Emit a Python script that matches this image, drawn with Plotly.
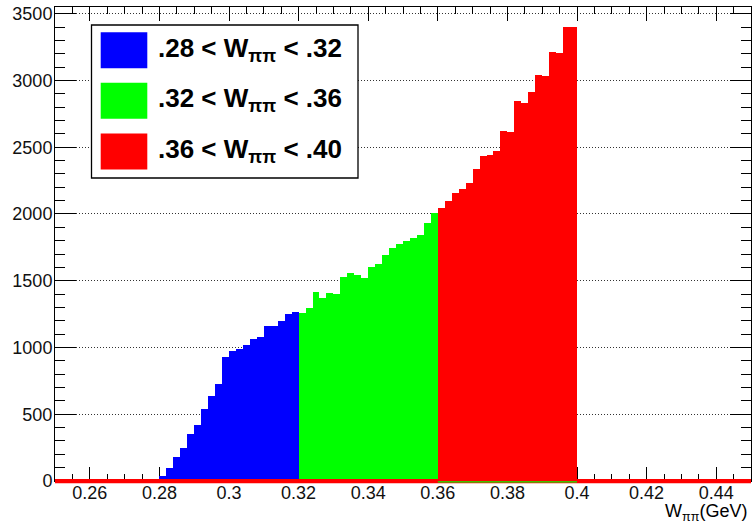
import numpy as np
import plotly.graph_objects as go

# ---- data ----
bin_width = 0.002
blue_low = 0.28
green_low = 0.32
red_low = 0.36

blue_counts = [40, 95, 182, 250, 350, 420, 540, 640, 728, 929,
               971, 991, 1021, 1066, 1076, 1164, 1164, 1201, 1254, 1264]
green_counts = [1259, 1296, 1416, 1370, 1406, 1398, 1529, 1559, 1545, 1522,
                1604, 1624, 1689, 1747, 1777, 1794, 1822, 1844, 1935, 2010]
red_counts = [2047, 2097, 2155, 2190, 2230, 2340, 2435, 2445, 2472, 2622,
              2615, 2843, 2830, 2911, 3040, 3035, 3211, 3205, 3399, 3399]

legend_labels = [".28 &lt; W<sub>ππ</sub> &lt; .32",
                 ".32 &lt; W<sub>ππ</sub> &lt; .36",
                 ".36 &lt; W<sub>ππ</sub> &lt; .40"]
colors = ["#0000FF", "#00FF00", "#FF0000"]

x_range = [0.25, 0.45]
y_range = [0, 3550]
x_major, x_minor = 0.02, 0.005
y_major, y_minor = 500, 100

# ---- figure ----
W, H = 752, 525
ml, mr, mt, mb = 55, 1, 7, 44
pw, ph = W - ml - mr, H - mt - mb


def px_x(p):
    return (p - ml) / pw


def px_y(p):
    return (H - mb - p) / ph


fig = go.Figure()
for low, counts, col in [(blue_low, blue_counts, colors[0]),
                         (green_low, green_counts, colors[1]),
                         (red_low, red_counts, colors[2])]:
    centers = low + bin_width * (np.arange(len(counts)) + 0.5)
    fig.add_trace(go.Bar(x=centers, y=counts, width=bin_width,
                         marker=dict(color=col, line=dict(width=0)),
                         showlegend=False, hoverinfo="x+y"))
# empty trace so the overlay axes (minor ticks) get drawn
fig.add_trace(go.Scatter(x=[], y=[], xaxis="x2", yaxis="y2", showlegend=False,
                         hoverinfo="skip"))

shapes = []
# red histogram baseline across full range
shapes.append(dict(type="rect", xref="paper", yref="paper", x0=0, x1=1,
                   y0=-2.2 / ph, y1=2.0 / ph, fillcolor="#FF0000",
                   line=dict(width=0), layer="above"))
shapes.append(dict(type="rect", xref="paper", yref="paper",
                   x0=(0.36 - x_range[0]) / (x_range[1] - x_range[0]),
                   x1=(0.40 - x_range[0]) / (x_range[1] - x_range[0]),
                   y0=-1.6 / ph, y1=-0.3 / ph, fillcolor="#00FF00",
                   line=dict(width=0), layer="above"))

# legend box
shapes.append(dict(type="rect", xref="paper", yref="paper",
                   x0=px_x(91.5), x1=px_x(358), y0=px_y(178), y1=px_y(25),
                   fillcolor="white", line=dict(color="black", width=1.3),
                   layer="above"))
annotations = []
row_centers = [50.3, 100.8, 151.5]
for lab, col, cy in zip(legend_labels, colors, row_centers):
    shapes.append(dict(type="rect", xref="paper", yref="paper",
                       x0=px_x(100.7), x1=px_x(147.3),
                       y0=px_y(cy + 18), y1=px_y(cy - 18),
                       fillcolor=col, line=dict(width=0), layer="above"))
    annotations.append(dict(xref="paper", yref="paper", x=px_x(156), y=px_y(cy - 1),
                            xanchor="left", yanchor="middle", showarrow=False,
                            text="<b>" + lab + "</b>",
                            font=dict(family="Liberation Sans, Arial", size=26, color="black")))

annotations.append(dict(xref="paper", yref="paper", x=px_x(749), y=px_y(512),
                        xanchor="right", yanchor="middle", showarrow=False,
                        text="W<sub>ππ</sub>(GeV)",
                        font=dict(family="Liberation Sans, Arial", size=18, color="black")))

common = dict(tickwidth=1, tickcolor="black", ticks="inside", mirror="ticks",
              zeroline=False, automargin=False, layer="below traces", fixedrange=True)

fig.update_layout(
    width=W, height=H,
    margin=dict(l=ml, r=mr, t=mt, b=mb, pad=0, autoexpand=False),
    paper_bgcolor="white", plot_bgcolor="white",
    bargap=0, barmode="overlay",
    shapes=shapes, annotations=annotations,
    font=dict(family="Liberation Sans, Arial", size=18, color="black"),
    showlegend=False,
    xaxis=dict(range=x_range, tickmode="linear", tick0=0.26, dtick=x_major,
               ticklen=14, showline=True, linecolor="black", linewidth=1,
               showgrid=False, ticklabelstandoff=-5,
               tickfont=dict(size=18, color="#111"), **common),
    yaxis=dict(range=y_range, tickmode="linear", tick0=0, dtick=y_major,
               ticklen=21, showline=True, linecolor="black", linewidth=1,
               showgrid=True, gridcolor="#333", gridwidth=1, griddash="1px,2px",
               ticklabelstandoff=-2, ticklabeloverflow="allow",
               tickfont=dict(size=18, color="#111"), **common),
    xaxis2=dict(overlaying="x", anchor="y2", range=x_range, tickmode="linear",
                tick0=x_range[0], dtick=x_minor, ticklen=7, showline=False,
                showgrid=False, showticklabels=False, **common),
    yaxis2=dict(overlaying="y", anchor="x2", range=y_range, tickmode="linear",
                tick0=0, dtick=y_minor, ticklen=10, showline=False,
                showgrid=False, showticklabels=False, **common),
)

fig.write_html("out.html",
               config=dict(displayModeBar=False),
               post_script="document.body.style.margin='0';"
                           "document.documentElement.style.overflow='hidden';")
